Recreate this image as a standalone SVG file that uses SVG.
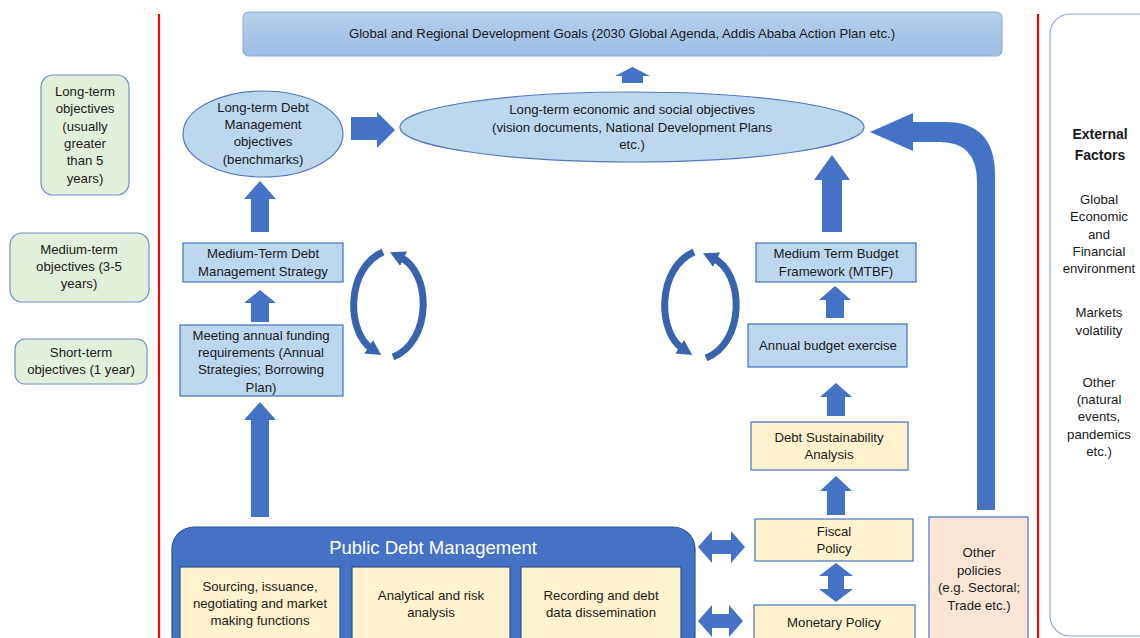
<svg xmlns="http://www.w3.org/2000/svg" width="1140" height="638" viewBox="0 0 1140 638">
<style>
text{font-family:"Liberation Sans",Arial,sans-serif;font-size:13.2px;fill:#1a1a1a;text-anchor:middle}
.green{fill:#e2efda;stroke:#7292c6;stroke-width:1.2}
.blue{fill:#bdd7ee;stroke:#4472c4;stroke-width:1.2}
.yel{fill:#fff2cc;stroke:#4472c4;stroke-width:1.2}
.arr{fill:#4472c4;stroke:none}
.circ{fill:none;stroke:#3a63ae;stroke-width:7}
.red{stroke:#ff0000;stroke-width:2.2}
</style>
<defs>
<linearGradient id="topg" x1="0" y1="0" x2="0" y2="1">
<stop offset="0" stop-color="#b7cfea"/><stop offset="1" stop-color="#9dbde4"/>
</linearGradient>
<marker id="ah" markerUnits="userSpaceOnUse" markerWidth="20" markerHeight="20" refX="4" refY="8" orient="auto">
<path d="M0,0 L15,8 L0,16 z" fill="#3a63ae"/>
</marker>
</defs>
<rect width="1140" height="638" fill="#ffffff"/>

<line class="red" x1="159" y1="14" x2="159" y2="638"/>
<line class="red" x1="1038" y1="14" x2="1038" y2="638"/>

<g id="long-term">
<rect class="green" x="41" y="75" width="88" height="120" rx="12"/>
<text x="85" y="96">Long-term</text>
<text x="85" y="113">objectives</text>
<text x="85" y="131">(usually</text>
<text x="85" y="148">greater</text>
<text x="85" y="165">than 5</text>
<text x="85" y="183">years)</text>
</g>
<g id="medium-term">
<rect class="green" x="10" y="233" width="139" height="69" rx="12"/>
<text x="79" y="254">Medium-term</text>
<text x="79" y="271">objectives (3-5</text>
<text x="79" y="288">years)</text>
</g>
<g id="short-term">
<rect class="green" x="15" y="339" width="132" height="45" rx="10"/>
<text x="81" y="357">Short-term</text>
<text x="81" y="374">objectives (1 year)</text>
</g>

<g id="global-goals">
<rect x="243" y="12" width="759" height="44" rx="6" fill="url(#topg)" stroke="#8fb0dd" stroke-width="1.2"/>
<text x="622" y="38" style="font-size:13.2px">Global and Regional Development Goals (2030 Global Agenda, Addis Ababa Action Plan etc.)</text>
</g>

<g id="ltes">
<ellipse cx="632" cy="127" rx="232" ry="35" fill="#bdd7ee" stroke="#5679bd" stroke-width="1.2"/>
<text x="632" y="114">Long-term economic and social objectives</text>
<text x="632" y="132">(vision documents, National Development Plans</text>
<text x="632" y="149">etc.)</text>
</g>

<g id="ltdm">
<ellipse cx="263" cy="134" rx="80" ry="43" fill="#bdd7ee" stroke="#5679bd" stroke-width="1.2"/>
<text x="263" y="112">Long-term Debt</text>
<text x="263" y="129">Management</text>
<text x="263" y="146">objectives</text>
<text x="263" y="164">(benchmarks)</text>
</g>

<g id="mtds">
<rect class="blue" x="183" y="243" width="160" height="39"/>
<text x="263" y="258">Medium-Term Debt</text>
<text x="263" y="276">Management Strategy</text>
</g>

<g id="annual-funding">
<rect class="blue" x="180" y="325" width="163" height="71"/>
<text x="261" y="340">Meeting annual funding</text>
<text x="261" y="357">requirements  (Annual</text>
<text x="261" y="374">Strategies; Borrowing</text>
<text x="261" y="392">Plan)</text>
</g>

<g id="mtbf">
<rect class="blue" x="756" y="243" width="160" height="39"/>
<text x="836" y="258">Medium Term Budget</text>
<text x="836" y="276">Framework (MTBF)</text>
</g>

<g id="annual-budget">
<rect class="blue" x="748" y="324" width="159" height="43"/>
<text x="828" y="350">Annual budget exercise</text>
</g>

<g id="dsa">
<rect class="yel" x="751" y="422" width="157" height="48"/>
<text x="829" y="442">Debt Sustainability</text>
<text x="829" y="459">Analysis</text>
</g>

<g id="fiscal">
<rect class="yel" x="755" y="519" width="158" height="42"/>
<text x="834" y="536">Fiscal</text>
<text x="834" y="553">Policy</text>
</g>

<g id="monetary">
<rect class="yel" x="754" y="605" width="161" height="40"/>
<text x="834" y="627">Monetary Policy</text>
</g>

<g id="other-policies">
<rect x="929" y="517" width="99" height="128" fill="#fbe5d6" stroke="#4472c4" stroke-width="1.2"/>
<text x="979" y="557">Other</text>
<text x="979" y="575">policies</text>
<text x="979" y="592">(e.g. Sectoral;</text>
<text x="979" y="610">Trade etc.)</text>
</g>

<g id="pdm">
<rect x="172" y="527" width="523" height="130" rx="22" fill="#4472c4" stroke="#2f528f" stroke-width="1.2"/>
<text x="433" y="554" style="fill:#ffffff;font-size:18.5px">Public Debt Management</text>
<rect class="yel" x="180" y="567" width="160" height="80" style="stroke:#2f528f"/>
<text x="260" y="591">Sourcing, issuance,</text>
<text x="260" y="608">negotiating and market</text>
<text x="260" y="625">making functions</text>
<rect class="yel" x="352" y="567" width="158" height="80" style="stroke:#2f528f"/>
<text x="431" y="600">Analytical and risk</text>
<text x="431" y="617">analysis</text>
<rect class="yel" x="521" y="567" width="160" height="80" style="stroke:#2f528f"/>
<text x="601" y="600">Recording and debt</text>
<text x="601" y="617">data dissemination</text>
</g>

<g id="external">
<rect x="1050" y="14" width="120" height="622" rx="20" fill="#ffffff" stroke="#8ea6cf" stroke-width="1.2"/>
<text x="1100" y="139" style="font-weight:bold;font-size:14px">External</text>
<text x="1100" y="160" style="font-weight:bold;font-size:14px">Factors</text>
<text x="1099" y="204">Global</text>
<text x="1099" y="221">Economic</text>
<text x="1099" y="239">and</text>
<text x="1099" y="256">Financial</text>
<text x="1099" y="273">environment</text>
<text x="1099" y="317">Markets</text>
<text x="1099" y="335">volatility</text>
<text x="1099" y="387">Other</text>
<text x="1099" y="404">(natural</text>
<text x="1099" y="421">events,</text>
<text x="1099" y="439">pandemics</text>
<text x="1099" y="456">etc.)</text>
</g>

<g id="connectors">
<polygon class="arr" points="632.5,67 650,76 643,76 643,83 622,83 622,76 615,76"/>
<polygon class="arr" points="351,117 377,117 377,112 395,130 377,148 377,140 351,140"/>
<polygon class="arr" points="260,181 276,199 269,199 269,232 251,232 251,199 244,199"/>
<polygon class="arr" points="260,290 276,303 269,303 269,322 251,322 251,303 244,303"/>
<polygon class="arr" points="260,402 276,420 269,420 269,517 251,517 251,420 244,420"/>
<polygon class="arr" points="832,155 850,180 842,180 842,232 822,232 822,180 814,180"/>
<polygon class="arr" points="835,286 851,300 844,300 844,318 826,318 826,300 819,300"/>
<polygon class="arr" points="836,383 852,397 845,397 845,416 827,416 827,397 820,397"/>
<polygon class="arr" points="836,476 852,491 845,491 845,515 827,515 827,491 820,491"/>
<polygon class="arr" points="698,547 712,531 712,540 731,540 731,531 745,547 731,563 731,554 712,554 712,563"/>
<polygon class="arr" points="698,621 712,605 712,614 729,614 729,605 743,621 729,637 729,628 712,628 712,637"/>
<polygon class="arr" points="836,563 853,576 844,576 844,589 853,589 836,602 819,589 828,589 828,576 819,576"/>
<path class="arr" d="M977 510 L977 182 Q977 142 940 142 L913 142 L913 151 L870 132 L913 113 L913 122 L945 122 Q995 122 995 175 L995 510 Z"/>
<path class="circ" d="M383 252 C346 268 346 332 372 349" marker-end="url(#ah)"/>
<path class="circ" d="M393 357 C432 342 432 272 400 257" marker-end="url(#ah)"/>
<path class="circ" d="M694 252 C657 268 657 332 683 349" marker-end="url(#ah)"/>
<path class="circ" d="M706 358 C745 343 745 273 713 258" marker-end="url(#ah)"/>
</g>
</svg>
